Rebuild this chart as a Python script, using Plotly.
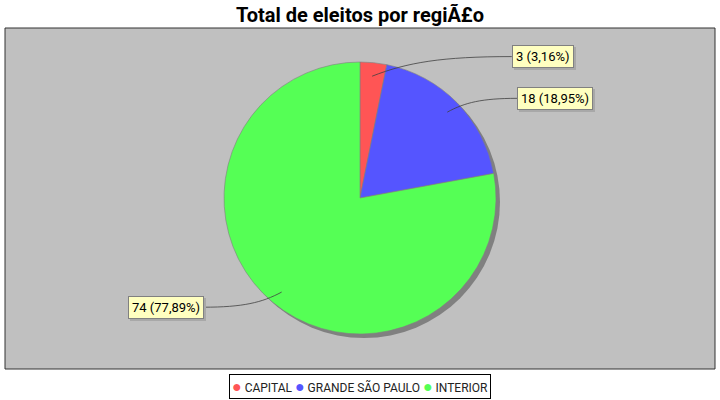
import numpy as np
import plotly.graph_objects as go

# data
regioes = ['CAPITAL', 'GRANDE SÃO PAULO', 'INTERIOR']
eleitos = [3, 18, 74]
cores = ['#FF5555', '#5555FF', '#55FF55']
titulo = 'Total de eleitos por regiÃ£o'

W, H = 720, 400
cx, cy, r = 360, 198, 136   # pie centre / radius in pixels


def px(x):
    return x / W


def py(y):
    return 1 - y / H


fig = go.Figure()

# shadow under the pie
sh = 4
fig.add_trace(go.Pie(
    values=[1], marker=dict(colors=['#808080']),
    domain=dict(x=[px(cx - r + sh), px(cx + r + sh)], y=[py(cy + r + sh), py(cy - r + sh)]),
    textinfo='none', hoverinfo='skip', showlegend=False,
))

fig.add_trace(go.Pie(
    labels=regioes, values=eleitos, sort=False, direction='clockwise', rotation=0,
    marker=dict(colors=cores, line=dict(color='#808080', width=0.6)),
    domain=dict(x=[px(cx - r), px(cx + r)], y=[py(cy + r), py(cy - r)]),
    textinfo='none', hoverinfo='label+value+percent', showlegend=False,
))

# section labels with curved link lines
total = sum(eleitos)
acum = np.cumsum([0] + eleitos)
shapes = [dict(type='rect', xref='paper', yref='paper', layer='below',
               x0=px(5), x1=px(715), y0=py(369), y1=py(28),
               fillcolor='#C0C0C0', line=dict(color='#333333', width=1))]
annotations = []
for i, v in enumerate(eleitos):
    theta = np.deg2rad((acum[i] + v / 2) / total * 360)
    s, c = np.sin(theta), np.cos(theta)
    x0, y0 = cx + 0.9 * r * s, cy - 0.9 * r * c
    y1 = cy - 1.045 * r * c
    side = 1 if s >= 0 else -1
    x1 = cx + side * r * (1.11 + 0.0625 * abs(s))
    dx, dy = x1 - x0, y1 - y0
    c1 = (x0 + 0.25 * dx, y0 + 0.7 * dy)
    c2 = (x0 + 0.5 * dx, y1)
    path = (f'M {px(x0)} {py(y0)} C {px(c1[0])} {py(c1[1])}, '
            f'{px(c2[0])} {py(c2[1])}, {px(x1)} {py(y1)}')
    shapes.append(dict(type='path', xref='paper', yref='paper', path=path,
                       line=dict(color='#404040', width=0.8)))

    pct = f'{v / total * 100:.2f}'.replace('.', ',')
    txt = f'{v} ({pct}%)'
    anchor = 'left' if side > 0 else 'right'
    # label shadow
    annotations.append(dict(
        x=px(x1 + 2), y=py(y1 + 2), xref='paper', yref='paper', xanchor=anchor, yanchor='middle',
        text=txt, showarrow=False, font=dict(family='Roboto', size=13, color='rgba(0,0,0,0)'),
        bgcolor='#A8A8A8', borderpad=3, borderwidth=1, bordercolor='#A8A8A8'))
    annotations.append(dict(
        x=px(x1), y=py(y1), xref='paper', yref='paper', xanchor=anchor, yanchor='middle',
        text=txt, showarrow=False, font=dict(family='Roboto', size=13, color='black'),
        bgcolor='#FFFFC0', borderpad=3, borderwidth=1, bordercolor='#808080'))

# legend drawn as a boxed line of text
leg = ' '.join(f'<span style="color:{c};font-size:16px">●</span> {n}' for n, c in zip(regioes, cores))
annotations.append(dict(
    x=0.5, y=py(386.5), xref='paper', yref='paper', xanchor='center', yanchor='middle',
    text=leg, showarrow=False, font=dict(family='Roboto', size=12, color='#222222'),
    bgcolor='white', borderpad=2, borderwidth=1, bordercolor='black'))

fig.update_layout(
    width=W, height=H,
    margin=dict(l=0, r=0, t=0, b=0),
    paper_bgcolor='white',
    plot_bgcolor='white',
    title=dict(text=f'<b>{titulo}</b>', x=0.5, xanchor='center', y=py(15), yanchor='middle',
               font=dict(family='Roboto', size=20, color='black')),
    shapes=shapes,
    annotations=annotations,
)

fig.write_html('out.html', config={'displayModeBar': False},
               post_script="document.body.style.margin='0';")
